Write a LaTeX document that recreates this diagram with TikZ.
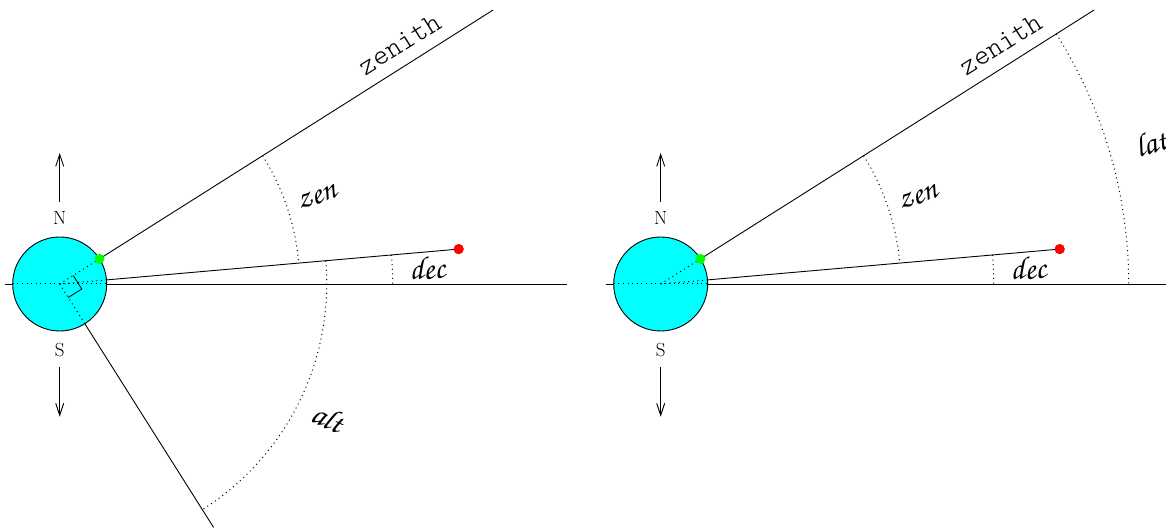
\documentclass[tikz,border=0pt]{standalone}
\usepackage[T1,TU]{fontenc}
\IfFileExists{t1pzc.fd}{\newcommand\curs{\fontencoding{T1}\fontfamily{pzc}\fontseries{mb}\fontshape{it}\selectfont}}{\newcommand\curs{\itshape}}
\usetikzlibrary{arrows.meta}
\definecolor{ballc}{RGB}{0,255,255}
\definecolor{gdotc}{RGB}{0,255,0}
\definecolor{rdotc}{RGB}{255,0,0}
\begin{document}
\begin{tikzpicture}[x=1pt,y=1pt,
  ln/.style={line width=0.9pt},
  dots/.style={line width=1pt,dash pattern=on 1pt off 3.6pt},
  ball/.style={circle,draw=black,line width=0.9pt,fill=ballc,minimum size=94pt,inner sep=0pt},
  gdot/.style={circle,fill=gdotc,inner sep=0pt,minimum size=10pt},
  rdot/.style={circle,fill=rdotc,inner sep=0pt,minimum size=10pt},
  clab/.style={font=\curs\fontsize{32}{36}\selectfont,inner sep=0pt},
  zlab/.style={font=\ttfamily\fontseries{l}\fontsize{29}{32}\selectfont,inner sep=0pt},
  nslab/.style={font=\fontsize{19}{22}\selectfont,inner sep=0pt},
  arr/.style={line width=0.9pt,-{Straight Barb[length=12pt,width=8pt]}}]
\useasboundingbox (0,0) rectangle (1166,527);
% ---------- left diagram ----------
\begin{scope}[shift={(59.7,243)}]
  \coordinate (Lc) at (0,0);
  \coordinate (Lw) at (-55,0);
  \coordinate (Le) at (507,0);
  \coordinate (Lz) at (32.3:512.7);
  \coordinate (La) at (-57.7:288);
  \coordinate (Lzi) at (32.3:47);
  \coordinate (Lsi) at (5:47);
  \coordinate (Lai) at (-57.7:47);
  \coordinate (Lwi) at (-47,0);
  \coordinate (Lei) at (47,0);
  \node[rdot] (Lr) at (5:400.5) {};
  \draw[ln] (Lw) -- (Le);
  \draw[ln] (Lc) -- (Lz);
  \draw[ln] (Lc) -- (Lr.center);
  \draw[ln] (Lc) -- (La);
  \node[ball] (Lb) at (Lc) {};
  \draw[dots] (Lwi) -- (Lei);
  \draw[dots] (Lc) -- (Lzi);
  \draw[dots] (Lc) -- (Lsi);
  \draw[dots] (Lc) -- (Lai);
  \draw[line width=0.8pt] (32.3:16) -- ++(-57.7:16) -- (-57.7:16);
  \node[gdot] (Lg) at (Lzi) {};
  \node[rdot] at (Lr) {};
  \draw[dots] (32.3:240) arc[start angle=32.3,end angle=5,radius=240];
  \draw[dots] (5:333) arc[start angle=5,end angle=0,radius=333];
  \draw[dots] (5:267) arc[start angle=5,end angle=-57.7,radius=267];
  \node[clab,rotate=18.65] (Lzen) at (18.65:272) {zen};
  \node[clab,rotate=2.5] (Ldec) at (2.5:368) {dec};
  \node[clab,rotate=-26.35] (Lalt) at (-26.35:300) {alt};
  \node[zlab,rotate=32.3] (Lzt) at (35.2:416) {zenith};
  \node[nslab] (LN) at (0,65.5) {N};
  \node[nslab] (LS) at (0,-66) {S};
  \coordinate (LNa) at (0,82.3);
  \coordinate (LNb) at (0,131);
  \coordinate (LSa) at (0,-83);
  \coordinate (LSb) at (0,-132.7);
  \draw[arr] (LNa) -- (LNb);
  \draw[arr] (LSa) -- (LSb);
\end{scope}
% ---------- right diagram ----------
\begin{scope}[shift={(660.7,243)}]
  \coordinate (Rc) at (0,0);
  \coordinate (Rw) at (-55,0);
  \coordinate (Re) at (507,0);
  \coordinate (Rz) at (32.3:512.7);
  \coordinate (Rzi) at (32.3:47);
  \coordinate (Rsi) at (5:47);
  \coordinate (Rwi) at (-47,0);
  \coordinate (Rei) at (47,0);
  \node[rdot] (Rr) at (5:400.5) {};
  \draw[ln] (Rw) -- (Re);
  \draw[ln] (Rc) -- (Rz);
  \draw[ln] (Rc) -- (Rr.center);
  \node[ball] (Rb) at (Rc) {};
  \draw[dots] (Rwi) -- (Rei);
  \draw[dots] (Rc) -- (Rzi);
  \draw[dots] (Rc) -- (Rsi);
  \node[gdot] (Rg) at (Rzi) {};
  \node[rdot] at (Rr) {};
  \draw[dots] (32.3:240) arc[start angle=32.3,end angle=5,radius=240];
  \draw[dots] (5:333) arc[start angle=5,end angle=0,radius=333];
  \draw[dots] (32.3:468) arc[start angle=32.3,end angle=0,radius=468];
  \node[clab,rotate=18.65] (Rzen) at (18.65:272) {zen};
  \node[clab,rotate=2.5] (Rdec) at (2.5:368) {dec};
  \node[clab,rotate=16.15] (Rlat) at (16.15:510) {lat};
  \node[zlab,rotate=32.3] (Rzt) at (35.2:416) {zenith};
  \node[nslab] (RN) at (0,65.5) {N};
  \node[nslab] (RS) at (0,-66) {S};
  \coordinate (RNa) at (0,82.3);
  \coordinate (RNb) at (0,131);
  \coordinate (RSa) at (0,-83);
  \coordinate (RSb) at (0,-132.7);
  \draw[arr] (RNa) -- (RNb);
  \draw[arr] (RSa) -- (RSb);
\end{scope}
\end{tikzpicture}
\end{document}
